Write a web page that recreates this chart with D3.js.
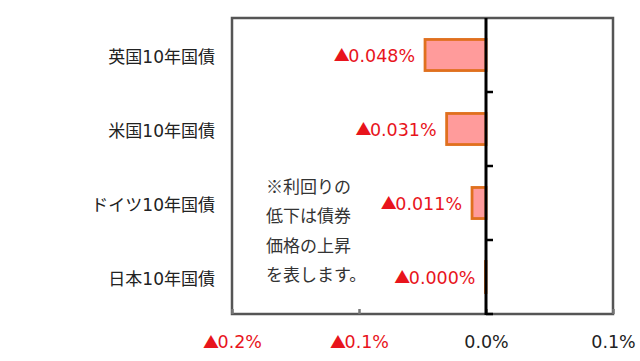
<!DOCTYPE html>
<html><head><meta charset="utf-8">
<script src="https://cdn.jsdelivr.net/npm/d3@7"></script>
<style>body{margin:0;background:#fff;} svg{display:block;}</style>
</head><body>
<script>
const categories = ["英国10年国債", "米国10年国債", "ドイツ10年国債", "日本10年国債"];
const values = [-0.048, -0.031, -0.011, -0.0004];
const xTicks = [-0.2, -0.1, 0.0, 0.1];
const noteLines = ["※利回りの", "低下は債券", "価格の上昇", "を表します。"];

(function () {
const W = 640, H = 361;
const svg = d3.select("body").append("svg").attr("width", W).attr("height", H);
const pL = 232, pR = 613, pT = 18, pB = 314;
const x = d3.scaleLinear().domain([-0.2, 0.1]).range([pL, pR]);
const y = d3.scaleBand().domain(categories).range([pT, pB]).paddingInner(0.58).paddingOuter(0.29);
const yb = d3.scaleBand().domain(categories).range([pT, pB]);
const jp = "'Noto Sans CJK JP', 'DejaVu Sans', sans-serif";
const mix = "'DejaVu Sans', 'Noto Sans CJK JP', sans-serif";
const red = "#e8141c";

// writes "▲" (CJK font) + number (DejaVu) into a text selection
function signed(sel, v, digits) {
  sel.text(null);
  if (v < -1e-9) {
    sel.append("tspan").attr("font-family", jp).attr("font-size", 16).attr("dx", 0).text("▲");
  }
  sel.append("tspan").attr("dx", v < -1e-9 ? -1.5 : 0).text(Math.abs(v).toFixed(digits) + "%");
}

svg.append("rect").attr("x", pL).attr("y", pT).attr("width", pR - pL).attr("height", pB - pT)
  .attr("fill", "#fff").attr("stroke", "#555").attr("stroke-width", 2.5);

const xAxis = d3.axisBottom(x).tickValues(xTicks).tickSizeInner(-5).tickSizeOuter(0).tickFormat("");
const gx = svg.append("g").attr("transform", `translate(0,${pB})`).call(xAxis);
gx.select(".domain").remove();
gx.selectAll(".tick line").attr("stroke", "#777").attr("stroke-width", 2.5);
gx.selectAll(".tick text").attr("y", 22).attr("font-family", mix).attr("font-size", 17.5)
  .attr("fill", d => d < -1e-9 ? red : "#222")
  .each(function (d) { signed(d3.select(this), d, 1); });

svg.append("g").selectAll("rect").data(categories).join("rect")
  .attr("x", (d, i) => x(Math.min(0, values[i])))
  .attr("y", d => y(d))
  .attr("width", (d, i) => Math.abs(x(values[i]) - x(0)))
  .attr("height", y.bandwidth())
  .attr("fill", "#ff9b9b").attr("stroke", "#e0701e").attr("stroke-width", 2.8);

svg.append("line").attr("x1", x(0)).attr("x2", x(0)).attr("y1", pT).attr("y2", pB + 1)
  .attr("stroke", "#000").attr("stroke-width", 3);
const bounds = categories.map(c => yb(c) + yb.bandwidth());
svg.append("g").selectAll("line").data(bounds).join("line")
  .attr("x1", x(0)).attr("x2", x(0) + 7).attr("y1", d => d).attr("y2", d => d)
  .attr("stroke", "#000").attr("stroke-width", 2.5);

svg.append("g").selectAll("text").data(categories).join("text")
  .attr("x", 215).attr("y", d => yb(d) + yb.bandwidth() / 2 + 3)
  .attr("text-anchor", "end").attr("dominant-baseline", "middle")
  .attr("font-family", mix).attr("font-size", 17).attr("fill", "#222").text(d => d);

svg.append("g").selectAll("text").data(categories).join("text")
  .attr("x", (d, i) => x(Math.min(0, values[i])) - 10)
  .attr("y", d => yb(d) + yb.bandwidth() / 2 + 2)
  .attr("text-anchor", "end").attr("dominant-baseline", "middle")
  .attr("font-family", mix).attr("font-size", 17.5).attr("fill", red)
  .each(function (d, i) { signed(d3.select(this), values[i], 3); });

svg.append("g").selectAll("text").data(noteLines).join("text")
  .attr("x", 266).attr("y", (d, i) => 188 + i * 29.5)
  .attr("dominant-baseline", "middle")
  .attr("font-family", jp).attr("font-size", 17).attr("fill", "#333").text(d => d);
})();
</script>
</body></html>
